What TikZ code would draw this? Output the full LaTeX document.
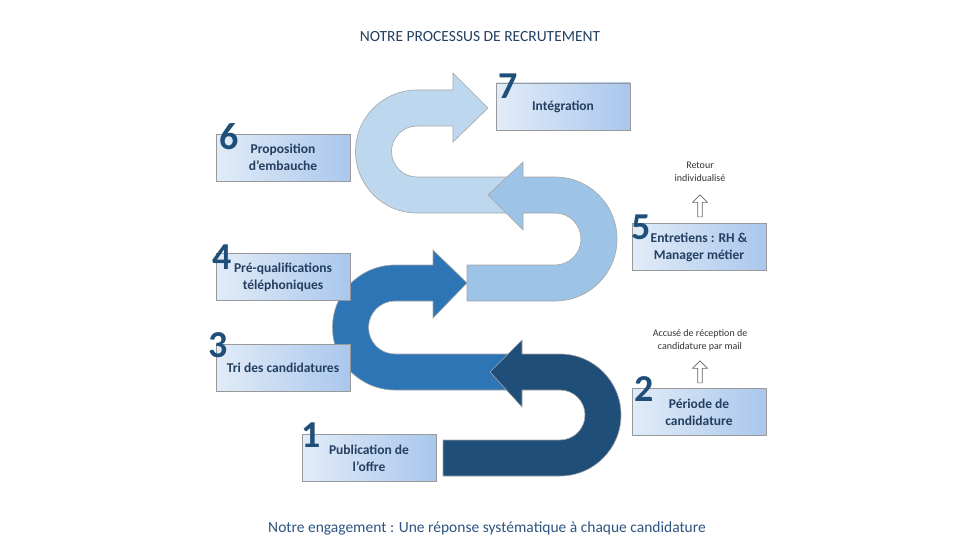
\documentclass[tikz,border=0pt]{standalone}
\usepackage{fontspec}
\setmainfont{Carlito}
\usetikzlibrary{shapes.arrows}
\definecolor{cA}{HTML}{BDD7EE}
\definecolor{cB}{HTML}{9DC3E6}
\definecolor{cC}{HTML}{2E75B6}
\definecolor{cD}{HTML}{1F4E79}
\definecolor{txt}{HTML}{243F60}
\definecolor{numc}{HTML}{1F4E79}
\definecolor{boxl}{HTML}{E2ECF8}
\definecolor{boxr}{HTML}{A9C7EC}
\tikzset{
  band/.style={draw=gray!70, line width=0.6pt},
  box/.style={draw=gray!80, line width=0.6pt, minimum width=134pt, minimum height=47pt,
    left color=boxl, right color=boxr,
    font=\fontsize{13.5}{17}\selectfont\bfseries, text=txt, align=center, inner sep=2pt},
  num/.style={font=\fontsize{38}{38}\selectfont\bfseries, text=numc, draw=none, inner sep=0pt},
  note/.style={font=\fontsize{10}{13}\selectfont, text=gray!40!black, align=center},
  uparrow/.style={single arrow, draw=gray!80!black, fill=white, shape border rotate=90,
    minimum height=22pt, minimum width=15pt, single arrow head extend=3pt, inner sep=1pt, line width=0.6pt}
}
\begin{document}
\begin{tikzpicture}[x=1pt,y=1pt]
\useasboundingbox (0,0) rectangle (965,550);
\fill[white] (0,0) rectangle (965,550);
% arrow 4
\path[band, fill=cA] (523,373) -- (417,373) arc[start angle=-90,end angle=-270,radius=25.5] -- (453,424) -- (453,408) -- (488,442) -- (453,477) -- (453,460) -- (417,460) arc[start angle=90,end angle=270,radius=61.5] -- (523,337) -- cycle;
% arrow 3
\path[band, fill=cB] (467,285) -- (555,285) arc[start angle=-90,end angle=90,radius=26] -- (523,337) -- (523,320) -- (488,355) -- (523,388) -- (523,373) -- (555,373) arc[start angle=90,end angle=-90,radius=62] -- (467,249) -- cycle;
% arrow 2
\path[band, fill=cC] (522,196) -- (395,196) arc[start angle=-90,end angle=-270,radius=26.5] -- (433,249) -- (433,232) -- (467,267) -- (433,300) -- (433,285) -- (395,285) arc[start angle=90,end angle=270,radius=62.5] -- (522,160) -- cycle;
% arrow 1
\path[band, fill=cD] (443,110) -- (560,110) arc[start angle=-90,end angle=90,radius=25] -- (522,160) -- (522,143) -- (490,178) -- (522,210) -- (522,196) -- (560,196) arc[start angle=90,end angle=-90,radius=61] -- (443,74) -- cycle;

\node[box] (b7) at (563,443.5) {Intégration};
\node[box] (b6) at (283,392.5) {Proposition\\d’embauche};
\node[box] (b5) at (699,303) {Entretiens : RH \&\\Manager métier};
\node[box] (b4) at (283,273) {Pré-qualifications\\téléphoniques};
\node[box] (b3) at (283,182) {Tri des candidatures};
\node[box] (b2) at (699,138) {Période de\\candidature};
\node[box] (b1) at (369,92) {Publication de\\l’offre};

\node[num] (n7) at (508,464) {7};
\node[num] (n6) at (229,413) {6};
\node[num] (n5) at (641,323) {5};
\node[num] (n4) at (222,293) {4};
\node[num] (n3) at (218,205) {3};
\node[num] (n2) at (644,161) {2};
\node[num] (n1) at (311,115) {1};

\node[note] (r5) at (700,378) {Retour\\individualisé};
\node[uparrow] (a5) at (700,343) {};
\node[note] (r2) at (700,210) {Accusé de réception de\\candidature par mail};
\node[uparrow] (a2) at (700,177) {};

\node[font=\fontsize{15.5}{18}\selectfont, text=txt] (title) at (480,513) {NOTRE PROCESSUS DE RECRUTEMENT};
\node[font=\fontsize{15.5}{18}\selectfont, text={rgb,255:red,46;green,84;blue,130}] (foot) at (487,22) {Notre engagement : Une réponse systématique à chaque candidature};
\end{tikzpicture}
\end{document}
